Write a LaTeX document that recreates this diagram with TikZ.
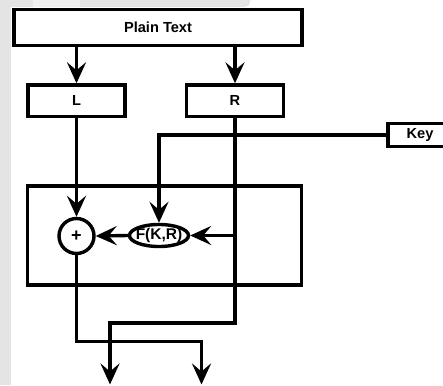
\documentclass[tikz,border=0pt]{standalone}
\usepackage{fontspec}
\setmainfont{Liberation Sans}
\usetikzlibrary{arrows.meta,shapes.geometric}
\definecolor{bggrey}{HTML}{E4E4E4}
\definecolor{bglight}{HTML}{F0F0F0}
\tikzset{
  ln/.style={line width=3.4pt},
  arr/.style={ln, -{Stealth[length=21pt,width=19pt,inset=8pt]}},
  box/.style={draw, ln, rectangle, inner sep=0pt, font=\fontsize{14.6}{16}\bfseries\selectfont},
  circ/.style={draw, ln, circle, inner sep=0pt, minimum size=35pt, font=\fontsize{18}{18}\bfseries\selectfont},
  ell/.style={draw, ln, ellipse, inner sep=0pt, minimum width=59pt, minimum height=22pt, font=\fontsize{15.5}{16}\bfseries\selectfont},
  frame/.style={draw, ln, rectangle, inner sep=0pt}
}
\begin{document}
\begin{tikzpicture}[x=1pt,y=-1pt]
\useasboundingbox (0,0) rectangle (443,385);
\clip (0,0) rectangle (443,385);
% background (screenshot margin)
\fill[bggrey] (0,0) rectangle (11,385);
\fill[bggrey] (0,0) -- (245,0) -- (250,0) -- (250,2) to[out=-90,in=0] (245,7) -- (0,7) -- cycle;
\fill[bglight] (33,0) rectangle (80,7);
% outer frame (round)
\node[frame, minimum width=274pt, minimum height=99pt] (round) at (164.5,235.5) {};
% nodes
\node[box, minimum width=288pt, minimum height=36pt] (pt) at (158,27.5) {Plain Text};
\node[box, minimum width=97pt, minimum height=31.5pt] (L) at (76.5,100.75) {L};
\node[box, minimum width=97pt, minimum height=31.5pt] (R) at (235,100.75) {R};
\node[box, minimum width=64pt, minimum height=23pt] (key) at (420,135) {Key};
\node[circ] (xor) at (76.5,236) {+};
\node[ell] (F) at (159,235.5) {\makebox[30pt]{F(K,R)}};
% coordinates
\coordinate (ra) at (110,323);
\coordinate (outL) at (110,384.5);
\coordinate (lb) at (201.5,341.5);
\coordinate (outR) at (201.5,384.5);
% connectors
\draw[arr] (pt.south -| L.north) -- (L.north);
\draw[arr] (pt.south -| R.north) -- (R.north);
\draw[arr] (L.south) -- (xor.north);
\draw[arr] (key.west) -| (F.north);
\draw[arr] (R.south |- F.east) -- (F.east);
\draw[arr] (F.west) -- (xor.east);
\draw[arr] (R.south) |- (ra) -- (outL);
\draw[arr] (xor.south) |- (lb) -- (outR);
\end{tikzpicture}
\end{document}
